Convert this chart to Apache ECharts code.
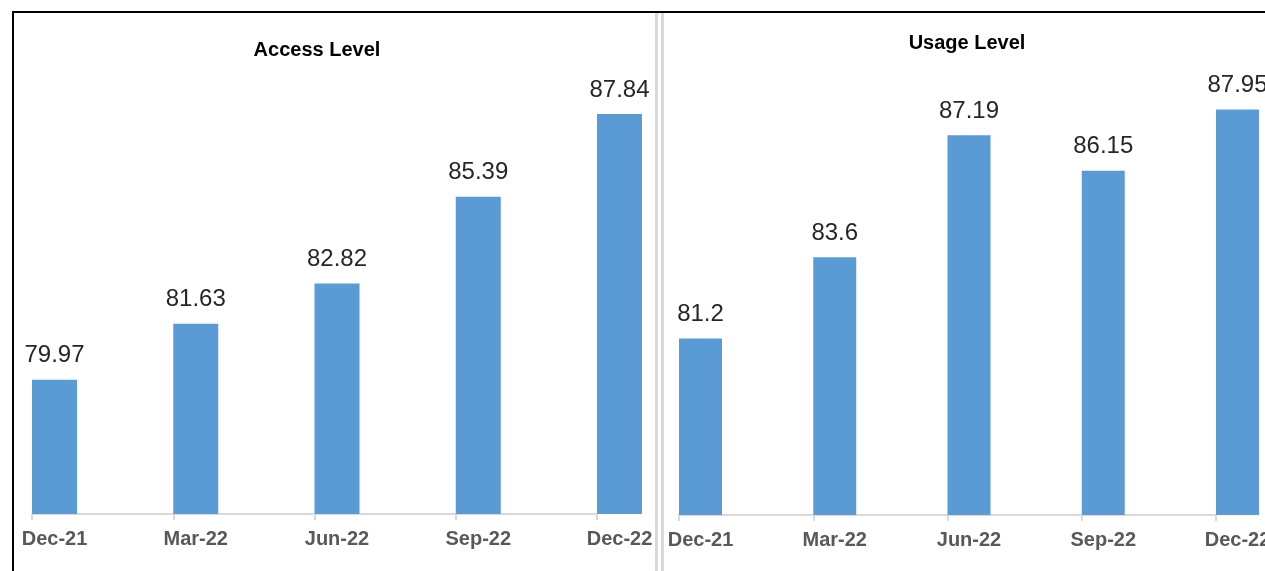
<!DOCTYPE html>
<html>
<head>
<meta charset="utf-8">
<title>Access Level and Usage Level</title>
<script src="https://cdn.jsdelivr.net/npm/echarts@6/dist/echarts.min.js"></script>
<style>
  html, body { margin: 0; padding: 0; background: #fff; overflow: hidden; }
  #wrap { position: relative; width: 1265px; height: 571px; overflow: hidden; }
  #chart { position: absolute; left: 0; top: 0; width: 1265px; height: 571px; }
  .frame { position: absolute; left: 12px; top: 11px; right: -10px; bottom: -10px;
           border-top: 2px solid #000; border-left: 2px solid #000; pointer-events: none; }
  .divider { position: absolute; top: 13px; bottom: 0; width: 3px; background: #d9d9d9; }
</style>
</head>
<body>
<div id="wrap">
  <div id="chart"></div>
  <div class="frame"></div>
  <div class="divider" style="left:655px"></div>
  <div class="divider" style="left:661px"></div>
</div>
<script>
// Quarter-end periods shared by both panels
const categories = ['Dec-21', 'Mar-22', 'Jun-22', 'Sep-22', 'Dec-22'];
// Access level per quarter
const accessLevel = [79.97, 81.63, 82.82, 85.39, 87.84];
// Usage level per quarter
const usageLevel = [81.2, 83.6, 87.19, 86.15, 87.95];
// Panel titles
const titles = ['Access Level', 'Usage Level'];

const BAR_COLOR = '#5b9bd5';
const AXIS_GRAY = '#d9d9d9';

function xAxisFor(gridIndex, barW) {
  return {
    type: 'category',
    gridIndex: gridIndex,
    data: categories,
    boundaryGap: false,
    axisLine: { show: true, lineStyle: { color: AXIS_GRAY, width: 2 } },
    axisTick: { show: true, length: 6, lineStyle: { color: AXIS_GRAY, width: 2 } },
    axisLabel: {
      show: true,
      interval: 0,
      margin: 15,
      hideOverlap: false,
      // widen the label box on the left so the text sits under the bar centre
      padding: [0, 0, 0, barW],
      fontFamily: 'Liberation Sans, Arial, sans-serif',
      fontWeight: 'bold',
      fontSize: 20,
      color: '#595959'
    },
    splitLine: { show: false }
  };
}

function yAxisFor(gridIndex) {
  return {
    type: 'value',
    gridIndex: gridIndex,
    min: 76,
    max: 90,
    show: false,
    splitLine: { show: false }
  };
}

// an invisible companion series pushes each real bar to the right of its tick
function spacer(axisIndex, barW) {
  return {
    type: 'bar',
    xAxisIndex: axisIndex,
    yAxisIndex: axisIndex,
    data: [],
    barWidth: barW,
    barGap: 0,
    silent: true,
    itemStyle: { color: 'rgba(0,0,0,0)' },
    label: { show: false }
  };
}

function barsFor(axisIndex, values, barW) {
  return {
    type: 'bar',
    xAxisIndex: axisIndex,
    yAxisIndex: axisIndex,
    data: values,
    barWidth: barW,
    barGap: 0,
    itemStyle: { color: BAR_COLOR },
    label: {
      show: true,
      position: 'top',
      distance: 12,
      fontFamily: 'Liberation Sans, Arial, sans-serif',
      fontSize: 24,
      color: '#262626'
    }
  };
}

const chart = echarts.init(document.getElementById('chart'), null, { renderer: 'canvas' });

chart.setOption({
  animation: false,
  backgroundColor: 'transparent',
  graphic: [
    {
      type: 'text', x: 317, y: 50,
      style: { text: titles[0], textAlign: 'center', textVerticalAlign: 'middle',
               fontFamily: 'Liberation Sans, Arial, sans-serif', fontWeight: 'bold', fontSize: 20, fill: '#000' }
    },
    {
      type: 'text', x: 967, y: 43,
      style: { text: titles[1], textAlign: 'center', textVerticalAlign: 'middle',
               fontFamily: 'Liberation Sans, Arial, sans-serif', fontWeight: 'bold', fontSize: 20, fill: '#000' }
    }
  ],
  grid: [
    { left: 32, right: 668, top: 41, bottom: 57, containLabel: false, outerBoundsMode: 'none' },
    { left: 679, right: 49, top: 40, bottom: 56, containLabel: false, outerBoundsMode: 'none' }
  ],
  xAxis: [xAxisFor(0, 45), xAxisFor(1, 43)],
  yAxis: [yAxisFor(0), yAxisFor(1)],
  series: [
    spacer(0, 45),
    barsFor(0, accessLevel, 45),
    spacer(1, 43),
    barsFor(1, usageLevel, 43)
  ]
});
</script>
</body>
</html>
